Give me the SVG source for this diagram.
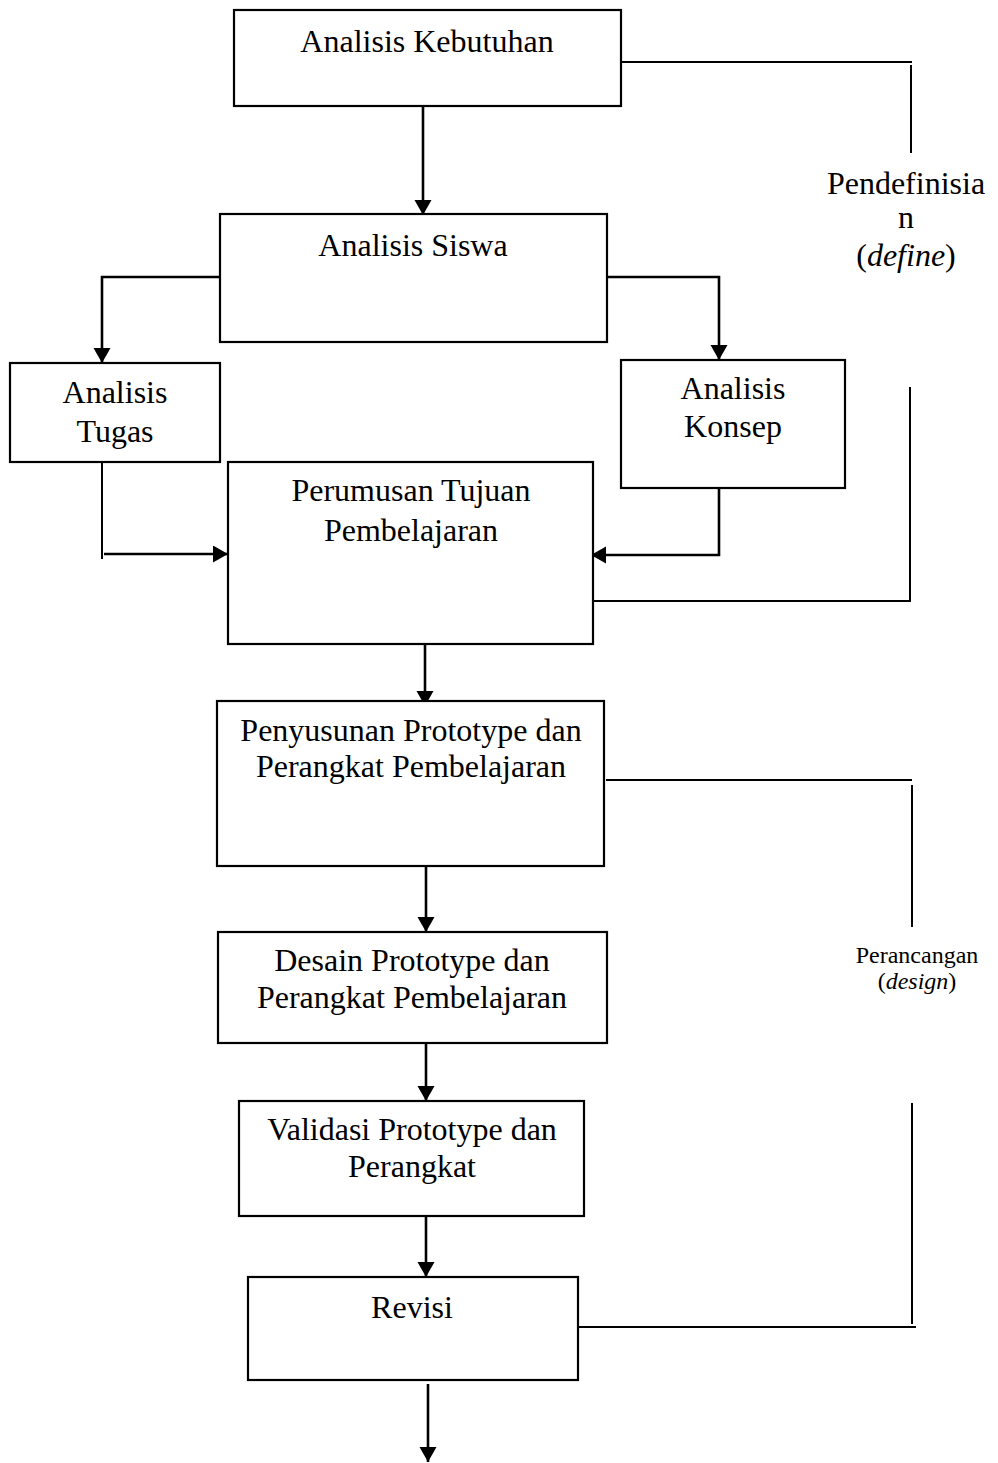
<svg xmlns="http://www.w3.org/2000/svg" width="998" height="1463" viewBox="0 0 998 1463">
<style>
.box{fill:#fff;stroke:#000;stroke-width:2.2}
.t{font-family:"Liberation Serif","Times New Roman",serif;font-size:32px;fill:#000;text-anchor:middle}
.s{font-size:24px}
.c{fill:none;stroke:#000;stroke-width:2.6}
.b{fill:none;stroke:#000;stroke-width:2}
</style>
<defs>
<marker id="ah" markerUnits="userSpaceOnUse" markerWidth="18" markerHeight="18" refX="15" refY="8.5" orient="auto">
<path d="M0,0 L15,8.5 L0,17 z" fill="#000"/>
</marker>
</defs>
<rect width="998" height="1463" fill="#fff"/>
<g id="connectors">
<path class="c" d="M423 106 V215" marker-end="url(#ah)"/>
<path class="c" d="M220 277 H102 V363" marker-end="url(#ah)"/>
<path class="c" d="M606 277 H719 V360" marker-end="url(#ah)"/>
<path class="b" d="M102 462 V559"/>
<path class="c" d="M104 554 H228" marker-end="url(#ah)"/>
<path class="c" d="M719 488 V555 H591" marker-end="url(#ah)"/>
<path class="c" d="M425 644 V706" marker-end="url(#ah)"/>
<path class="c" d="M426 866 V932" marker-end="url(#ah)"/>
<path class="c" d="M426 1043 V1101" marker-end="url(#ah)"/>
<path class="c" d="M426 1213 V1277" marker-end="url(#ah)"/>
<path class="c" d="M428 1384 V1462" marker-end="url(#ah)"/>
<path class="b" d="M621 62 H912 M911 65 V153"/>
<path class="b" d="M910 387 V601 H589"/>
<path class="b" d="M606 780 H912 M912 785 V927"/>
<path class="b" d="M912 1103 V1324 M577 1327 H916"/>
</g>
<g id="n1"><rect class="box" x="234" y="10" width="387" height="96"/><text class="t" x="427" y="52">Analisis Kebutuhan</text></g>
<g id="n2"><rect class="box" x="220" y="214" width="387" height="128"/><text class="t" x="413" y="256">Analisis Siswa</text></g>
<g id="n3"><rect class="box" x="10" y="363" width="210" height="99"/><text class="t" x="115" y="403">Analisis</text><text class="t" x="115" y="442">Tugas</text></g>
<g id="n4"><rect class="box" x="621" y="360" width="224" height="128"/><text class="t" x="733" y="399">Analisis</text><text class="t" x="733" y="437">Konsep</text></g>
<g id="n5"><rect class="box" x="228" y="462" width="365" height="182"/><text class="t" x="411" y="501">Perumusan Tujuan</text><text class="t" x="411" y="541">Pembelajaran</text></g>
<g id="n6"><rect class="box" x="217" y="701" width="387" height="165"/><text class="t" x="411" y="741">Penyusunan Prototype dan</text><text class="t" x="411" y="777">Perangkat Pembelajaran</text></g>
<g id="n7"><rect class="box" x="218" y="932" width="389" height="111"/><text class="t" x="412" y="971">Desain Prototype dan</text><text class="t" x="412" y="1008">Perangkat Pembelajaran</text></g>
<g id="n8"><rect class="box" x="239" y="1101" width="345" height="115"/><text class="t" x="412" y="1140">Validasi Prototype dan</text><text class="t" x="412" y="1177">Perangkat</text></g>
<g id="n9"><rect class="box" x="248" y="1277" width="330" height="103"/><text class="t" x="412" y="1318">Revisi</text></g>
<g id="define">
<text class="t" x="906" y="194">Pendefinisia</text>
<text class="t" x="906" y="228">n</text>
<text class="t" x="906" y="266">(<tspan font-style="italic">define</tspan>)</text>
</g>
<g id="design">
<text class="t s" x="917" y="963">Perancangan</text>
<text class="t s" x="917" y="989">(<tspan font-style="italic">design</tspan>)</text>
</g>
</svg>
